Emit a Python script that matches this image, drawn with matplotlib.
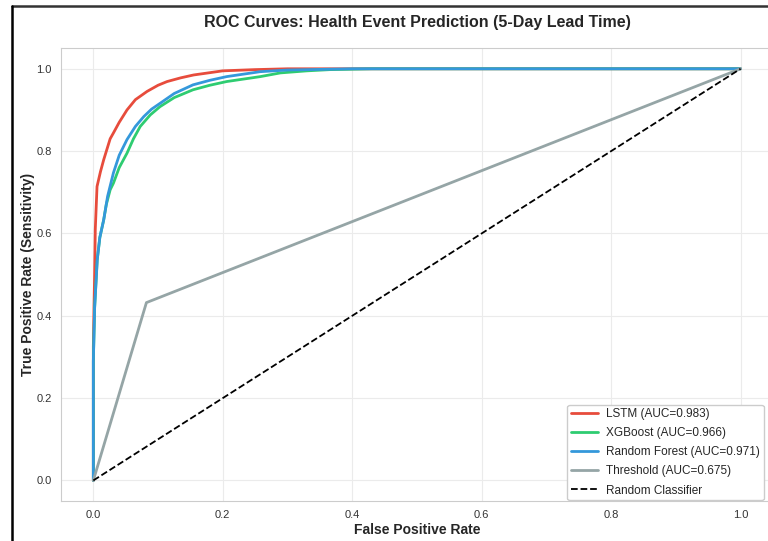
import matplotlib
matplotlib.use("Agg")
import matplotlib.pyplot as plt
from matplotlib.lines import Line2D
import seaborn as sns

# ROC points (FPR, TPR)
lstm_fpr = [0.0, 0.0, 0.001, 0.002, 0.003, 0.0057, 0.011, 0.016, 0.026, 0.031, 0.04, 0.052, 0.065, 0.083,
            0.1, 0.114, 0.135, 0.155, 0.2, 0.25, 0.3, 1.0]
lstm_tpr = [0.0, 0.325, 0.42, 0.5, 0.61, 0.714, 0.75, 0.779, 0.83, 0.844, 0.87, 0.90, 0.925, 0.945,
            0.96, 0.969, 0.978, 0.985, 0.995, 0.998, 1.0, 1.0]

xgb_fpr = [0.0, 0.0, 0.002, 0.006, 0.01, 0.016, 0.02, 0.026, 0.031, 0.04, 0.052, 0.062, 0.0725, 0.088,
           0.103, 0.125, 0.154, 0.18, 0.206, 0.258, 0.289, 0.33, 0.366, 0.43, 1.0]
xgb_tpr = [0.0, 0.29, 0.42, 0.536, 0.59, 0.633, 0.67, 0.706, 0.722, 0.76, 0.795, 0.83, 0.86, 0.888,
           0.908, 0.93, 0.949, 0.96, 0.969, 0.981, 0.99, 0.995, 0.998, 1.0, 1.0]

rf_fpr = [0.0, 0.0, 0.002, 0.006, 0.01, 0.016, 0.022, 0.031, 0.04, 0.052, 0.065, 0.078, 0.09, 0.103,
          0.125, 0.154, 0.18, 0.206, 0.258, 0.3, 0.4, 1.0]
rf_tpr = [0.0, 0.29, 0.42, 0.536, 0.59, 0.633, 0.69, 0.747, 0.79, 0.828, 0.86, 0.884, 0.902, 0.916,
          0.94, 0.961, 0.972, 0.981, 0.993, 0.997, 1.0, 1.0]

thr_fpr = [0.0, 0.082, 1.0]
thr_tpr = [0.0, 0.432, 1.0]

names = ["LSTM", "XGBoost", "Random Forest", "Threshold"]
aucs = [0.983, 0.966, 0.971, 0.675]
colors = ["#e74c3c", "#2ecc71", "#3498db", "#95a5a6"]

sns.set_style("whitegrid")
plt.rcParams["font.family"] = ["Liberation Sans", "DejaVu Sans"]

fig = plt.figure(figsize=(7.68, 5.41), dpi=100)
ax = fig.add_axes([0.0794, 0.0739, 0.927, 0.837])

curves = [(lstm_fpr, lstm_tpr), (xgb_fpr, xgb_tpr), (rf_fpr, rf_tpr), (thr_fpr, thr_tpr)]
for (fx, ty), name, auc, c in zip(curves, names, aucs, colors):
    ax.plot(fx, ty, color=c, lw=2, label=f"{name} (AUC={auc:.3f})")
ax.plot([0, 1], [0, 1], "k--", lw=1.3, label="Random Classifier")

ax.set_xlim(-0.05, 1.05)
ax.set_ylim(-0.05, 1.05)
ax.set_xticks([0.0, 0.2, 0.4, 0.6, 0.8, 1.0])
ax.set_yticks([0.0, 0.2, 0.4, 0.6, 0.8, 1.0])
ax.tick_params(labelsize=8, colors="#333333", pad=3)
ax.grid(True, color="#ebebeb", lw=0.8)
for s in ax.spines.values():
    s.set_color("#cccccc")

ax.set_xlabel("False Positive Rate", fontsize=10, fontweight="bold", labelpad=2)
ax.set_ylabel("True Positive Rate (Sensitivity)", fontsize=10, fontweight="bold", labelpad=1)
ax.set_title("ROC Curves: Health Event Prediction (5-Day Lead Time)", fontsize=11.5, fontweight="bold", pad=15)
ax.legend(loc="lower right", bbox_to_anchor=(0.987, 0.002), borderaxespad=0, fontsize=8.5,
          frameon=True, framealpha=1, edgecolor="#cccccc", borderpad=0.3, labelspacing=0.6,
          handlelength=2.3, handletextpad=0.7)

# frame around the screenshot region
fig.add_artist(Line2D([12 / 768, 1.0], [1 - 6 / 541, 1 - 6 / 541], transform=fig.transFigure, color="#333333", lw=1.8))
fig.add_artist(Line2D([12 / 768, 12 / 768], [0.0, 1 - 6 / 541], transform=fig.transFigure, color="black", lw=1.8))

fig.savefig("out.png", dpi=100)
